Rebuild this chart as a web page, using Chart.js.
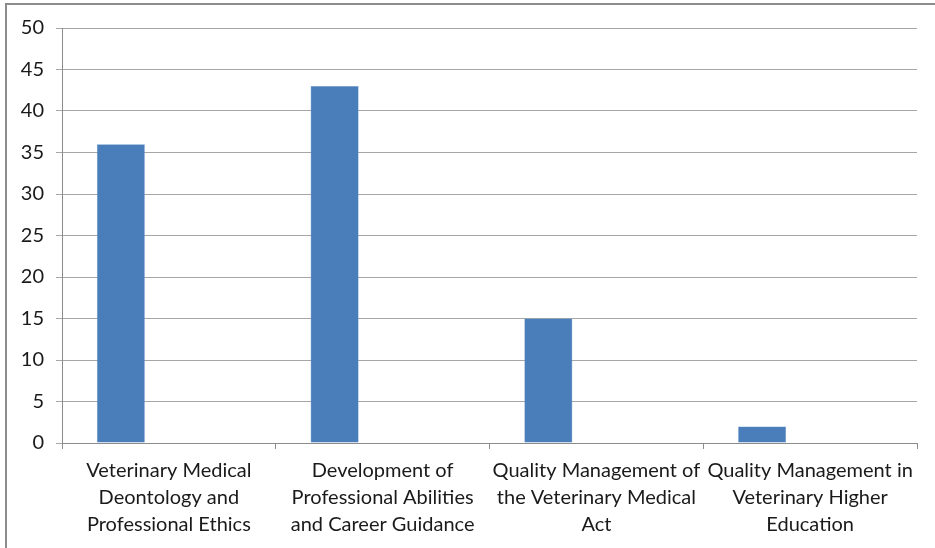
<!DOCTYPE html>
<html>
<head>
<meta charset="utf-8">
<script src="https://cdn.jsdelivr.net/npm/chart.js@4/dist/chart.umd.min.js"></script>
<style>
  body { margin: 0; background: #fff; }
  #wrap { position: relative; width: 935px; height: 548px; }
  #frame {
    position: absolute; left: 5px; top: 3px; right: 0; bottom: 0;
    border-top: 2px solid #8c8c8c; border-left: 2px solid #8c8c8c;
    pointer-events: none;
  }
</style>
</head>
<body>
<div id="wrap">
  <canvas id="myChart" width="935" height="548"></canvas>
  <div id="frame"></div>
</div>
<script>
const courses = [
    ['Veterinary Medical', 'Deontology and', 'Professional Ethics'],
    ['Development of', 'Professional Abilities', 'and Career Guidance'],
    ['Quality Management of', 'the Veterinary Medical', 'Act'],
    ['Quality Management in', 'Veterinary Higher', 'Education']
];
const series1 = [36, 43, 15, 2];
const series2 = [null, null, null, null];
const series3 = [null, null, null, null];
const yTicks = [0, 5, 10, 15, 20, 25, 30, 35, 40, 45, 50];

const ctx = document.getElementById('myChart').getContext('2d');
const family = 'Lato, "Open Sans", sans-serif';

new Chart(ctx, {
    type: 'bar',
    data: {
        labels: courses,
        datasets: [
            { data: series1, backgroundColor: '#4a7ebb', borderColor: '#6b96cc', borderWidth: 0.5 },
            { data: series2, backgroundColor: '#be4b48' },
            { data: series3, backgroundColor: '#98b954' }
        ]
    },
    options: {
        responsive: false,
        animation: false,
        layout: { padding: { left: 0, top: 28, right: 18, bottom: 0 } },
        categoryPercentage: 0.674,
        barPercentage: 1,
        plugins: { legend: { display: false }, tooltip: { enabled: false } },
        scales: {
            x: {
                grid: { offset: true, drawOnChartArea: false, color: '#8c8c8c', tickLength: 6 },
                border: { color: '#8c8c8c' },
                ticks: {
                    color: '#1a1a1a',
                    font: { family: family, size: 20, lineHeight: '27px' },
                    padding: 8, maxRotation: 0, minRotation: 0, autoSkip: false
                },
                afterFit: function(scale) { scale.height = 105; }
            },
            y: {
                min: 0,
                max: 50,
                afterBuildTicks: function(scale) { scale.ticks = yTicks.map(v => ({ value: v })); },
                grid: { color: '#a6a6a6', tickLength: 6 },
                border: { color: '#8c8c8c' },
                ticks: { color: '#1a1a1a', font: { family: family, size: 20 }, padding: 12 },
                afterFit: function(scale) { scale.width = 62; }
            }
        }
    }
});
</script>
</body>
</html>
